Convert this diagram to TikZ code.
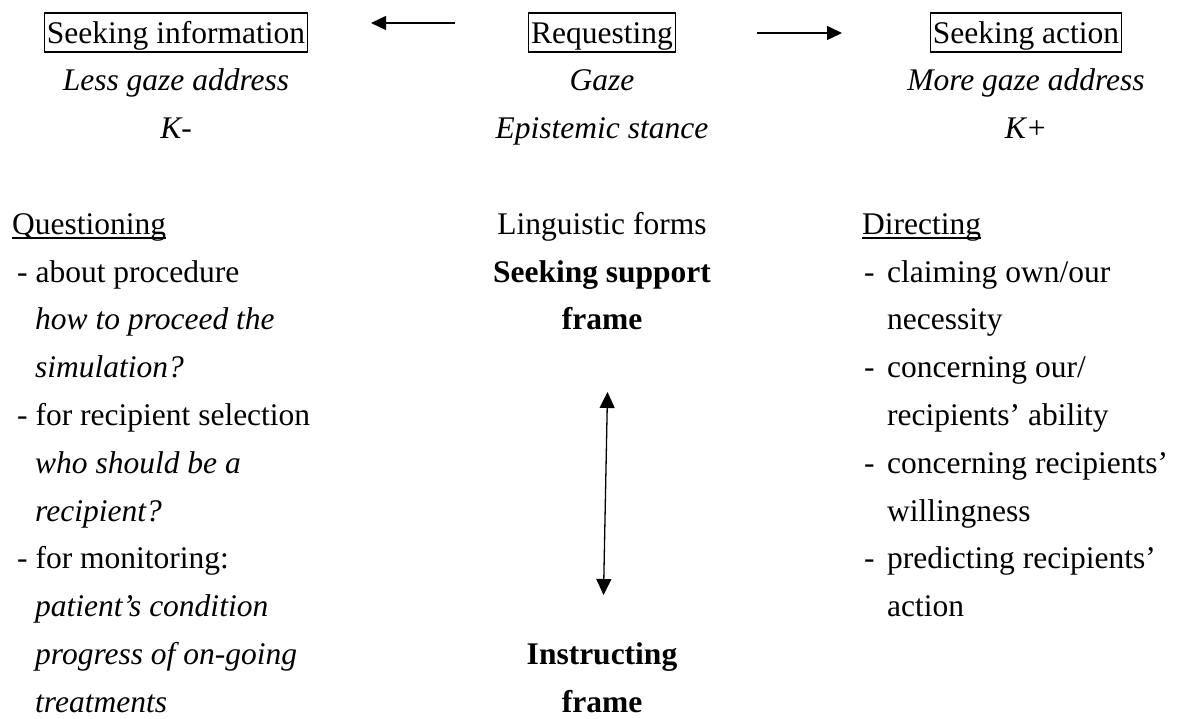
\documentclass[tikz,border=0pt]{standalone}
\usepackage{fontspec}
\setmainfont{Liberation Serif}
\usetikzlibrary{arrows.meta}
\begin{document}
\begin{tikzpicture}[x=1pt,y=-1pt,
  txt/.style={inner sep=0pt, font=\fontsize{31.5pt}{47.8pt}\selectfont},
  ctr/.style={txt, anchor=base},
  lft/.style={txt, anchor=base west},
  boxed/.style={ctr, draw, line width=1.3pt, inner xsep=2.5pt, inner ysep=0pt, text height=30pt, text depth=9pt},
  tip/.style={Triangle[length=15pt,width=14pt]},
  conn/.style={line width=1.3pt, -{Triangle[length=15pt,width=14pt]}},
  biconn/.style={line width=1.3pt, {Triangle[length=16pt,width=15pt]}-{Triangle[length=16pt,width=15pt]}},
  uline/.style={line width=1.5pt}]
\useasboundingbox (0,0) rectangle (1177,718);

% top row
\node[boxed] (si) at (176,43) {Seeking information};
\node[boxed] (rq) at (602,43) {Requesting};
\node[boxed] (sa) at (1026,43) {Seeking action};

\coordinate (la1) at (455,23);
\coordinate (la2) at (371,23);
\coordinate (ra1) at (757,33);
\coordinate (ra2) at (842,33);
\draw[conn] (la1) -- (la2);
\draw[conn] (ra1) -- (ra2);

\node[ctr] (lg) at (176,90.8) {\itshape Less gaze address};
\node[ctr] (km) at (176,138.6) {\itshape K-};
\node[ctr] (gz) at (602,90.8) {\itshape Gaze};
\node[ctr] (es) at (602,138.6) {\itshape Epistemic stance};
\node[ctr] (mg) at (1026,90.8) {\itshape More gaze address};
\node[ctr] (kp) at (1026,138.6) {\itshape K+};

% left column
\node[lft] (qu) at (12,234.2) {Questioning};
\draw[uline] ([yshift=-4pt]qu.base west) -- ([yshift=-4pt]qu.base east);
\node[lft] (l1) at (17,282) {- about procedure};
\node[lft] (l2) at (35,329.8) {\itshape how to proceed the};
\node[lft] (l3) at (35,377.6) {\itshape simulation?};
\node[lft] (l4) at (17,425.4) {- for recipient selection};
\node[lft] (l5) at (35,473.2) {\itshape who should be a};
\node[lft] (l6) at (35,521) {\itshape recipient?};
\node[lft] (l7) at (17,568.8) {- for monitoring:};
\node[lft] (l8) at (35,616.6) {\itshape patient’s condition};
\node[lft] (l9) at (35,664.4) {\itshape progress of on-going};
\node[lft] (l10) at (35,712.2) {\itshape treatments};

% centre column
\node[ctr] (lf) at (602,234.2) {Linguistic forms};
\node[ctr] (ss) at (602,282) {\bfseries Seeking support};
\node[ctr] (sf) at (602,329.8) {\bfseries frame};
\node[ctr] (in) at (602,664.4) {\bfseries Instructing};
\node[ctr] (if) at (602,712.2) {\bfseries frame};

\coordinate (va1) at (607.5,392);
\coordinate (va2) at (603.5,595);
\draw[biconn] (va1) -- (va2);

% right column
\node[lft] (di) at (862,234.2) {Directing};
\draw[uline] ([yshift=-4pt]di.base west) -- ([yshift=-4pt]di.base east);
\node[lft] (d1) at (864,282) {-};
\node[lft] (r1) at (887,282) {claiming own/our};
\node[lft] (r2) at (887,329.8) {necessity};
\node[lft] (d2) at (864,377.6) {-};
\node[lft] (r3) at (887,377.6) {concerning our/};
\node[lft] (r4) at (887,425.4) {recipients’ ability};
\node[lft] (d3) at (864,473.2) {-};
\node[lft] (r5) at (887,473.2) {concerning recipients’};
\node[lft] (r6) at (887,521) {willingness};
\node[lft] (d4) at (864,568.8) {-};
\node[lft] (r7) at (887,568.8) {predicting recipients’};
\node[lft] (r8) at (887,616.6) {action};
\end{tikzpicture}
\end{document}
